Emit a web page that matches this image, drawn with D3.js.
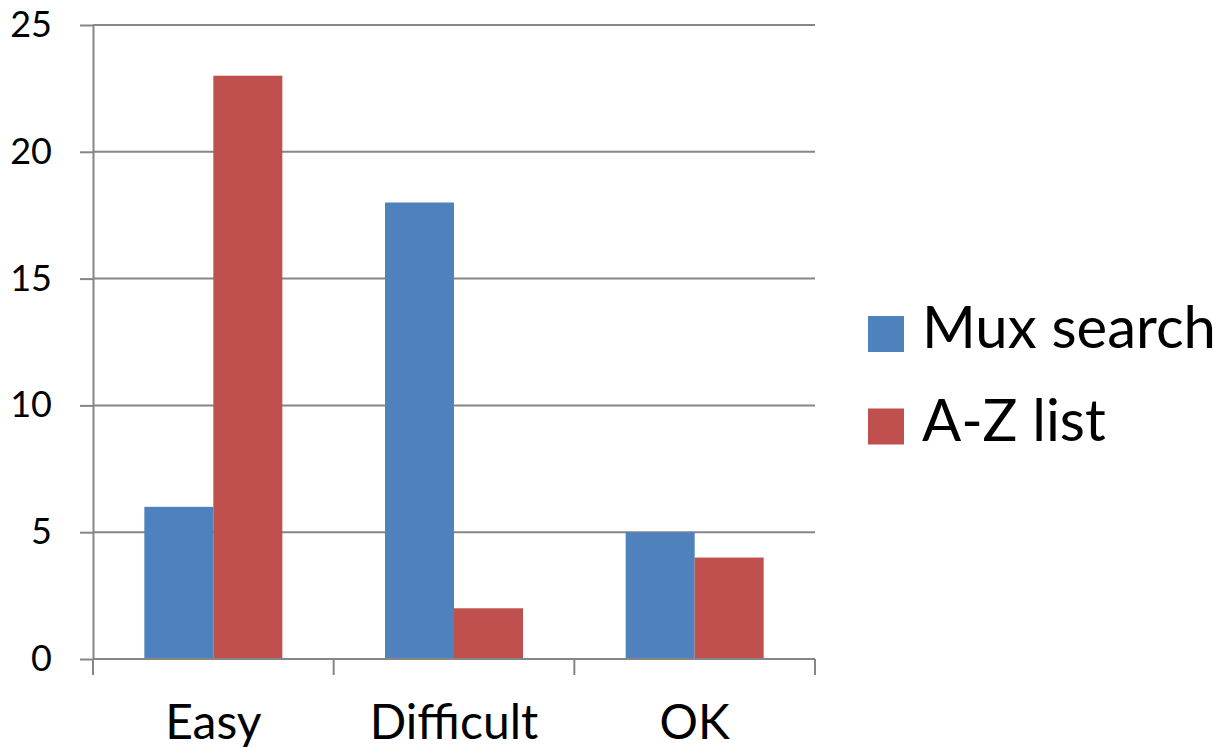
<!DOCTYPE html>
<meta charset="utf-8">
<style>
    body {
        margin: 0;
        background: #fff;
        font-family: Lato, "Open Sans", sans-serif;
    }
    .grid line,
    .axis line,
    .axis path {
        stroke: #868686;
        stroke-width: 2;
        fill: none;
    }
</style>
<body>
<script src="https://cdn.jsdelivr.net/npm/d3@7"></script>
<script>

    var categories = ["Easy", "Difficult", "OK"];
    var seriesNames = ["Mux search", "A-Z list"];
    var muxSearch = [6, 18, 5];
    var azList = [23, 2, 4];
    var yTicks = [0, 5, 10, 15, 20, 25];
    var colors = ["#4F81BD", "#C0504D"];

    var width = 1220, height = 747;
    var plot = { left: 93, right: 815, top: 25, bottom: 659 };

    var svg = d3.select("body").append("svg")
        .attr("width", width)
        .attr("height", height);

    var x0 = d3.scaleBand().domain(categories).range([plot.left, plot.right]);
    var x1 = d3.scaleBand().domain(seriesNames)
        .range([0, x0.step()])
        .paddingOuter(0.744);
    var y = d3.scaleLinear().domain([0, 25]).range([plot.bottom, plot.top]);
    var color = d3.scaleOrdinal().domain(seriesNames).range(colors);

    // gridlines
    svg.append("g")
        .attr("class", "grid")
        .selectAll("line")
        .data(yTicks.filter(function (d) { return d > 0; }))
        .enter().append("line")
        .attr("x1", plot.left)
        .attr("x2", plot.right)
        .attr("y1", function (d) { return y(d); })
        .attr("y2", function (d) { return y(d); });

    // bars
    var rows = categories.map(function (c, i) {
        return [
            { cat: c, s: seriesNames[0], v: muxSearch[i] },
            { cat: c, s: seriesNames[1], v: azList[i] }
        ];
    });

    svg.append("g")
        .selectAll("g")
        .data(rows)
        .enter().append("g")
        .attr("transform", function (d) { return "translate(" + x0(d[0].cat) + ",0)"; })
        .selectAll("rect")
        .data(function (d) { return d; })
        .enter().append("rect")
        .attr("x", function (d) { return x1(d.s); })
        .attr("width", x1.bandwidth())
        .attr("y", function (d) { return y(d.v); })
        .attr("height", function (d) { return y(0) - y(d.v); })
        .attr("fill", function (d) { return color(d.s); });

    // y axis
    var yAxis = svg.append("g")
        .attr("class", "axis")
        .attr("transform", "translate(" + plot.left + ",0)")
        .call(d3.axisLeft(y).tickValues(yTicks).tickSize(13).tickPadding(28).tickSizeOuter(0));
    yAxis.selectAll("text")
        .attr("fill", "#000")
        .style("font-size", "36px")
        .style("font-family", "Lato, sans-serif");

    // x axis
    var xAxis = svg.append("g")
        .attr("class", "axis")
        .attr("transform", "translate(0," + plot.bottom + ")");
    xAxis.append("line")
        .attr("x1", plot.left)
        .attr("x2", plot.right)
        .attr("y1", 0)
        .attr("y2", 0);
    xAxis.selectAll(".tk")
        .data(d3.range(categories.length + 1))
        .enter().append("line")
        .attr("class", "tk")
        .attr("x1", function (i) { return plot.left + i * x0.step(); })
        .attr("x2", function (i) { return plot.left + i * x0.step(); })
        .attr("y1", 0)
        .attr("y2", 16);
    xAxis.selectAll("text")
        .data(categories)
        .enter().append("text")
        .attr("x", function (d) { return x0(d) + x0.bandwidth() / 2; })
        .attr("y", 80)
        .attr("text-anchor", "middle")
        .style("font-size", "48px")
        .text(function (d) { return d; });

    // legend
    var legend = svg.append("g")
        .selectAll("g")
        .data(seriesNames)
        .enter().append("g")
        .attr("transform", function (d, i) { return "translate(868," + (316 + i * 92.5) + ")"; });
    legend.append("rect")
        .attr("width", 36)
        .attr("height", 36)
        .attr("fill", function (d) { return color(d); });
    legend.append("text")
        .attr("x", 54)
        .attr("y", 32)
        .style("font-size", "58px")
        .text(function (d) { return d; });

</script>
